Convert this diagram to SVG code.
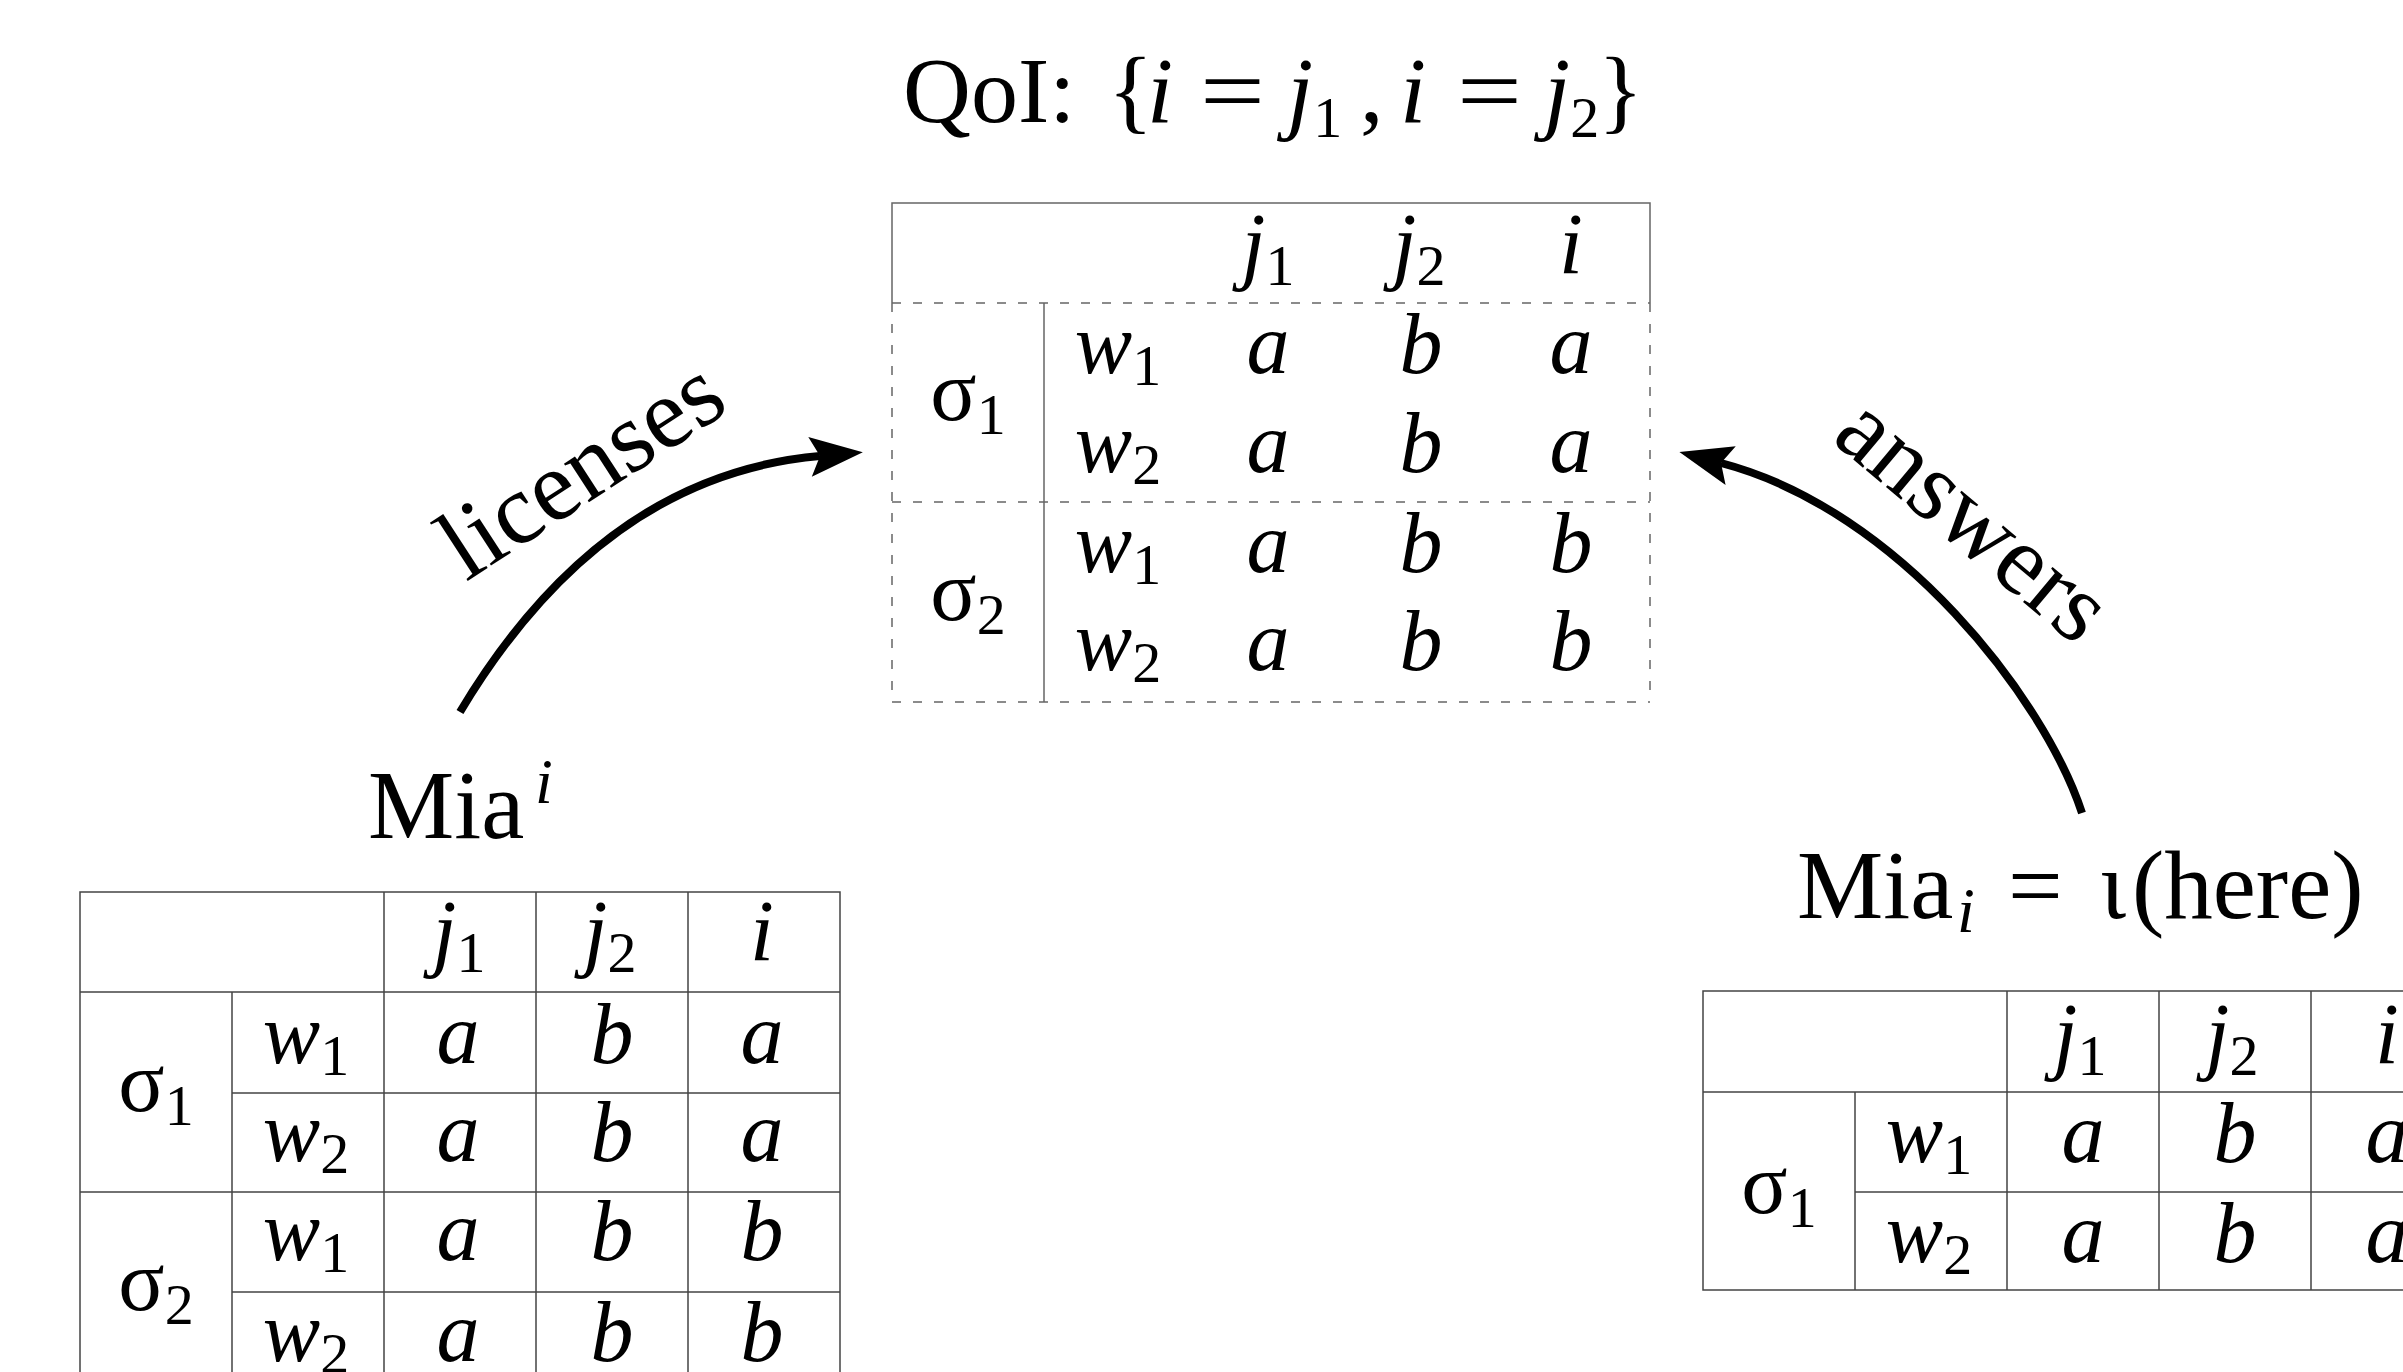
<svg xmlns="http://www.w3.org/2000/svg" width="2403" height="1372" viewBox="0 0 2403 1372">
  <style>
    text { font-family: "Liberation Serif", "DejaVu Serif", serif; fill: #000; }
    .it { font-style: italic; }
    .big { font-size: 97px; }
    .lbl { font-size: 100px; }
    .ttl { font-size: 94px; }
    .cell { font-size: 86px; }
    .sub { font-size: 58px; font-style: normal; }
    .subi { font-size: 64px; font-style: italic; }
    .grid { stroke: #444; stroke-width: 1.5; fill: none; }
    .qgrid { stroke: #666; stroke-width: 1.5; fill: none; }
    .dash { stroke-dasharray: 9 12; }
    .arc { stroke: #000; stroke-width: 8; fill: none; marker-end: url(#head); }
  </style>
  <defs>
    <marker id="head" markerUnits="userSpaceOnUse" viewBox="-12 -22 58 44" refX="0" refY="0" markerWidth="58" markerHeight="44" orient="auto">
      <path d="M43,0 L-10,-20 L0,0 L-10,20 Z" fill="#000"/>
    </marker>
  </defs>

  <rect width="2403" height="1372" fill="#fff"/>

  <!-- Question of interest, with its table of assignments -->
  <g id="qoi">
    <text class="ttl" x="903" y="122">QoI:</text>
    <text class="ttl" x="1108" y="122">{</text>
    <text class="ttl it" x="1147" y="122">i</text>
    <text class="ttl" x="1200" y="122" textLength="65" lengthAdjust="spacingAndGlyphs">=</text>
    <text class="ttl it" x="1287" y="122">j<tspan class="sub" dy="15">1</tspan></text>
    <text class="ttl" x="1360" y="122">,</text>
    <text class="ttl it" x="1400" y="122">i</text>
    <text class="ttl" x="1457" y="122" textLength="65" lengthAdjust="spacingAndGlyphs">=</text>
    <text class="ttl it" x="1544" y="122">j<tspan class="sub" dy="15">2</tspan></text>
    <text class="ttl" x="1598" y="122">}</text>

    <path class="qgrid" d="M892,303 V203 H1650 V303 M1044,303 V702"/>
    <path class="qgrid dash" d="M892,303 H1650 M892,502 H1650 M892,702 H1650 M892,303 V702 M1650,303 V702"/>

    <g class="cell it" text-anchor="middle">
      <text x="1268" y="273">j<tspan class="sub" dy="12">1</tspan></text>
      <text x="1419" y="273">j<tspan class="sub" dy="12">2</tspan></text>
      <text x="1571" y="273">i</text>

      <text x="1118" y="373">w<tspan class="sub" dy="12">1</tspan></text>
      <text x="1118" y="472">w<tspan class="sub" dy="12">2</tspan></text>
      <text x="1118" y="572">w<tspan class="sub" dy="12">1</tspan></text>
      <text x="1118" y="670">w<tspan class="sub" dy="12">2</tspan></text>

      <text x="1268" y="373">a</text><text x="1421" y="373">b</text><text x="1571" y="373">a</text>
      <text x="1268" y="472">a</text><text x="1421" y="472">b</text><text x="1571" y="472">a</text>
      <text x="1268" y="572">a</text><text x="1421" y="572">b</text><text x="1571" y="572">b</text>
      <text x="1268" y="670">a</text><text x="1421" y="670">b</text><text x="1571" y="670">b</text>
    </g>
    <g class="cell" text-anchor="middle">
      <text x="968" y="420">σ<tspan class="sub" dy="14">1</tspan></text>
      <text x="968" y="620">σ<tspan class="sub" dy="14">2</tspan></text>
    </g>
  </g>

  <!-- Mia with superscript index -->
  <g id="mia-sup">
    <text class="big" x="368" y="838">Mia</text>
    <text class="subi" x="535" y="803">i</text>

    <path class="grid" d="M80,1372 V892 H840 V1372 M80,992 H840 M80,1192 H840 M232,1093 H840 M232,1292 H840 M232,992 V1372 M384,892 V1372 M536,892 V1372 M688,892 V1372"/>

    <g class="cell it" text-anchor="middle">
      <text x="459" y="960">j<tspan class="sub" dy="12">1</tspan></text>
      <text x="610" y="960">j<tspan class="sub" dy="12">2</tspan></text>
      <text x="762" y="960">i</text>

      <text x="306" y="1063">w<tspan class="sub" dy="12">1</tspan></text>
      <text x="306" y="1161">w<tspan class="sub" dy="12">2</tspan></text>
      <text x="306" y="1260">w<tspan class="sub" dy="12">1</tspan></text>
      <text x="306" y="1361">w<tspan class="sub" dy="12">2</tspan></text>

      <text x="458" y="1063">a</text><text x="612" y="1063">b</text><text x="762" y="1063">a</text>
      <text x="458" y="1161">a</text><text x="612" y="1161">b</text><text x="762" y="1161">a</text>
      <text x="458" y="1260">a</text><text x="612" y="1260">b</text><text x="762" y="1260">b</text>
      <text x="458" y="1361">a</text><text x="612" y="1361">b</text><text x="762" y="1361">b</text>
    </g>
    <g class="cell" text-anchor="middle">
      <text x="156" y="1111">σ<tspan class="sub" dy="14">1</tspan></text>
      <text x="156" y="1310">σ<tspan class="sub" dy="14">2</tspan></text>
    </g>
  </g>

  <!-- Mia with subscript index, defined as iota(here) -->
  <g id="mia-sub">
    <text class="big" x="1797" y="918">Mia</text>
    <text class="subi" x="1957" y="932">i</text>
    <text class="big" x="2008" y="918">=</text>
    <text class="big" x="2100" y="918">ι</text>
    <text class="big" x="2132" y="918">(here)</text>

    <path class="grid" d="M2403,991 H1703 V1290 H2403 M1703,1092 H2403 M1855,1192 H2403 M1855,1092 V1290 M2007,991 V1290 M2159,991 V1290 M2311,991 V1290"/>

    <g class="cell it" text-anchor="middle">
      <text x="2080" y="1063">j<tspan class="sub" dy="12">1</tspan></text>
      <text x="2232" y="1063">j<tspan class="sub" dy="12">2</tspan></text>
      <text x="2387" y="1063">i</text>

      <text x="1929" y="1162">w<tspan class="sub" dy="12">1</tspan></text>
      <text x="1929" y="1262">w<tspan class="sub" dy="12">2</tspan></text>

      <text x="2083" y="1162">a</text><text x="2235" y="1162">b</text><text x="2387" y="1162">a</text>
      <text x="2083" y="1262">a</text><text x="2235" y="1262">b</text><text x="2387" y="1262">a</text>
    </g>
    <g class="cell" text-anchor="middle">
      <text x="1779" y="1213">σ<tspan class="sub" dy="14">1</tspan></text>
    </g>
  </g>

  <!-- Connectors -->
  <g id="connectors">
    <path class="arc" d="M460,712 C545,570 660,470 820,456"/>
    <text class="lbl" transform="translate(466,582) rotate(-33)">licenses</text>
    <path class="arc" d="M2082,813 C2045,700 1900,510 1721,463"/>
    <text class="lbl" transform="translate(1830,440) rotate(40)">answers</text>
  </g>
</svg>
